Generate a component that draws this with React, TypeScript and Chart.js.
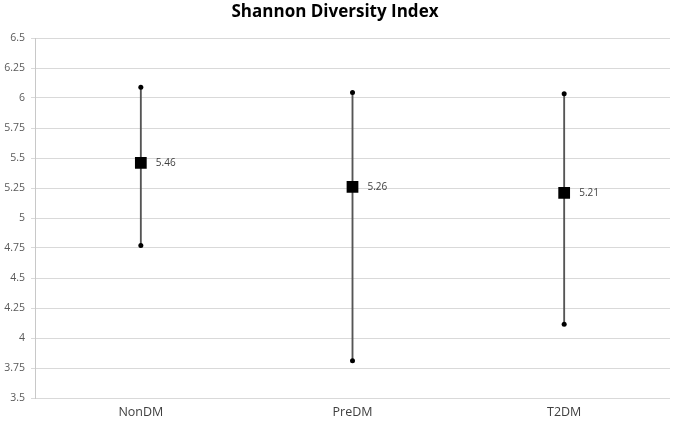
import React, { useEffect, useRef } from "react";
import { Chart, registerables } from "chart.js";

Chart.register(...registerables);

const categories = ["NonDM", "PreDM", "T2DM"];
const means = [5.46, 5.26, 5.21];
const maxValues = [6.09, 6.045, 6.035];
const minValues = [4.77, 3.81, 4.115];
const meanLabels = ["5.46", "5.26", "5.21"];

const FONT = "'Open Sans', 'Liberation Sans', sans-serif";

const labelPlugin = {
  id: "meanLabels",
  afterDatasetsDraw(chart: any) {
    const meta = chart.getDatasetMeta(3);
    const ctx = chart.ctx;
    ctx.save();
    ctx.font = `10px ${FONT}`;
    ctx.fillStyle = "#404040";
    ctx.textAlign = "left";
    ctx.textBaseline = "middle";
    meta.data.forEach((pt: any, i: number) => {
      ctx.fillText(meanLabels[i], pt.x + 15, pt.y);
    });
    ctx.restore();
  },
};

export default function App() {
  const ref = useRef<HTMLCanvasElement>(null);
  useEffect(() => {
    if (!ref.current) return;
    const chart = new Chart(ref.current, {
      type: "bar",
      data: {
        labels: categories,
        datasets: [
          {
            type: "bar",
            data: categories.map((_, i) => [minValues[i], maxValues[i]]) as any,
            backgroundColor: "#555555",
            borderWidth: 0,
            barThickness: 1.2,
            grouped: false,
            order: 3,
          } as any,
          {
            type: "line",
            data: maxValues,
            showLine: false,
            pointStyle: "circle",
            pointRadius: 2.5,
            pointBackgroundColor: "#000",
            pointBorderWidth: 0,
            order: 2,
          },
          {
            type: "line",
            data: minValues,
            showLine: false,
            pointStyle: "circle",
            pointRadius: 2.5,
            pointBackgroundColor: "#000",
            pointBorderWidth: 0,
            order: 2,
          },
          {
            type: "line",
            data: means,
            showLine: false,
            pointStyle: "rect",
            pointRadius: 8.3,
            pointBackgroundColor: "#000",
            pointBorderColor: "#000",
            pointBorderWidth: 0,
            order: 1,
          },
        ],
      },
      options: {
        responsive: false,
        animation: false,
        layout: { autoPadding: false, padding: { left: 0, right: 5, top: 0, bottom: 0 } },
        plugins: {
          legend: { display: false },
          tooltip: { enabled: false },
          title: {
            display: true,
            text: "Shannon Diversity Index",
            color: "#000",
            font: { family: FONT, size: 17, weight: "bold" },
            padding: { top: 2, bottom: 15.6 },
          },
        },
        scales: {
          x: {
            offset: true,
            grid: { display: false, drawTicks: false },
            border: { display: false },
            ticks: {
              color: "#404040",
              font: { family: FONT, size: 12.5 },
              padding: 7,
            },
            afterFit: (s: any) => {
              s.height = 28;
            },
          },
          y: {
            min: 3.5,
            max: 6.5,
            grid: { color: "#d9d9d9", lineWidth: 1, tickLength: 4 },
            border: { display: true, color: "#c8c8c8", width: 1 },
            ticks: {
              stepSize: 0.25,
              color: "#595959",
              font: { family: FONT, size: 10.5 },
              padding: 6,
              callback: (v: any) => String(Number(v)),
            },
            afterFit: (s: any) => {
              s.width = 35;
            },
          },
        },
      },
      plugins: [labelPlugin],
    });
    return () => chart.destroy();
  }, []);
  return (
    <div style={{ position: "absolute", left: 0, top: 0, width: 675, height: 426, background: "#fff" }}>
      <canvas ref={ref} width={675} height={426} style={{ display: "block" }} />
    </div>
  );
}
